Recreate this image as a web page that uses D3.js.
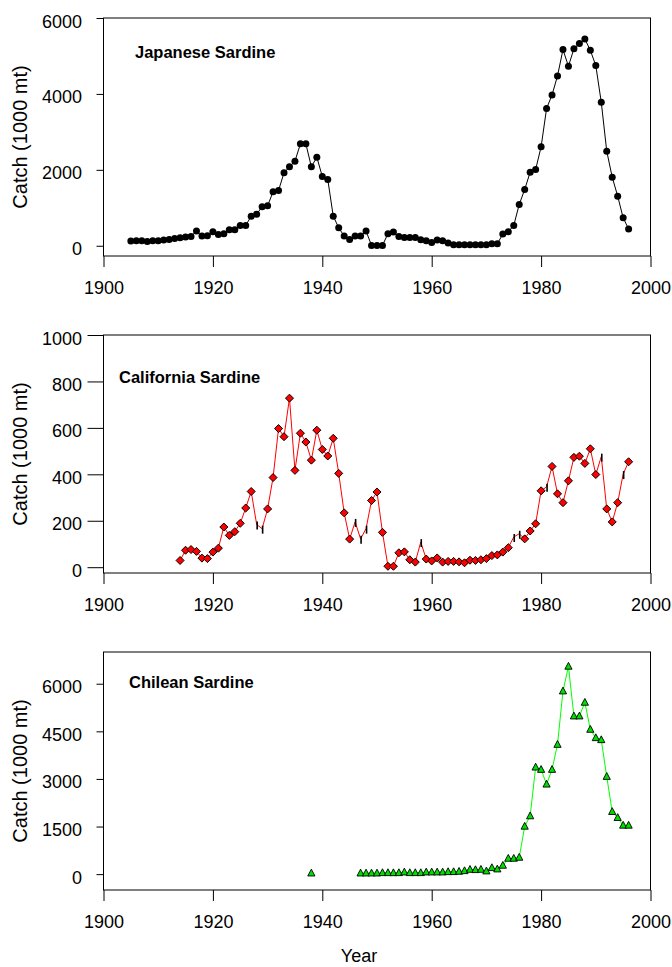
<html>
<script src='https://d3js.org/d3.v7.min.js'></script>
<style>
  body { margin: 0; background: #fff; }
  text { font-family: "Liberation Sans", Arial, sans-serif; fill: #000; }
</style>
<body onload='init()'>
<svg width=672 height=967></svg>
<script>
// Japanese sardine, 1905-1996 (1000 mt)
const jpYears = d3.range(1905, 1997);
const jpCatch = [123, 130, 130, 114, 130, 130, 150, 167, 193, 210,
  228, 245, 386, 254, 263, 368, 298, 316, 421, 421,
  535, 535, 780, 833, 1026, 1053, 1421, 1456, 1921, 2079,
  2228, 2684, 2684, 2079, 2333, 1825, 1746, 780, 474, 254,
  167, 254, 254, 386, 9, 9, 9, 316, 360, 245,
  219, 219, 219, 158, 132, 88, 149, 132, 70, 26,
  26, 26, 26, 26, 26, 26, 53, 53, 307, 368,
  535, 1088, 1482, 1939, 2009, 2605, 3614, 3974, 4474, 5167,
  4728, 5193, 5325, 5447, 5149, 4746, 3781, 2491, 1807, 1307,
  737, 439];

// California sardine, 1914-1996 (1000 mt)
const caYears = d3.range(1914, 1997);
const caCatch = [29, 73, 76, 68, 39, 37, 65, 82, 173, 137,
  153, 189, 255, 326, 184, 166, 251, 386, 597, 562,
  728, 417, 577, 539, 461, 590, 507, 479, 555, 404,
  234, 121, 195, 122, 166, 287, 324, 150, 4, 4,
  62, 66, 32, 22, 108, 35, 27, 40, 22, 25,
  25, 23, 19, 30, 29, 32, 37, 50, 53, 65,
  84, 130, 144, 122, 156, 187, 329, 346, 434, 316,
  278, 372, 473, 478, 447, 510, 399, 476, 251, 195,
  278, 401, 454];
// years plotted with a bar mark instead of a diamond
const caBarYears = [1928, 1929, 1946, 1947, 1948, 1958, 1975, 1976, 1981, 1991, 1995];

// Chilean sardine, 1938 and 1947-1996 (1000 mt)
const clYears = [1938].concat(d3.range(1947, 1997));
const clCatch = [30,
  30, 30, 30, 30, 42, 42, 40, 42, 63,
  42, 42, 42, 63, 63, 63, 63, 74, 74, 84,
  105, 147, 137, 147, 95, 200, 158, 274, 495, 495,
  526, 1505, 1832, 3368, 3295, 2832, 3295, 4084, 5768, 6547,
  4979, 4979, 5410, 4558, 4295, 4232, 3074, 1968, 1779, 1537,
  1537];

const xTicks = [1900, 1920, 1940, 1960, 1980, 2000];
const jpTicks = [0, 2000, 4000, 6000];
const caTicks = [0, 200, 400, 600, 800, 1000];
const clTicks = [0, 1500, 3000, 4500, 6000];

function init() {
  const svg = d3.select('svg');
  const left = 103.5, right = 650.5, h = 238;
  const x = d3.scaleLinear().domain([1900, 2000]).range([left, right]);

  const panels = [
    {top: 18, domain: [-270, 6000], ticks: jpTicks, tickLen: 7, title: 'Japanese Sardine', tx: 135, ty: 58,
     years: jpYears, vals: jpCatch, line: '#000', marker: 'circle'},
    {top: 335, domain: [-25, 1000], ticks: caTicks, tickLen: 16, title: 'California Sardine', tx: 119, ty: 383,
     years: caYears, vals: caCatch, line: '#ff0000', marker: 'diamond'},
    {top: 652, domain: [-500, 7000], ticks: clTicks, tickLen: 7, title: 'Chilean Sardine', tx: 129, ty: 688,
     years: clYears, vals: clCatch, line: '#00ff00', marker: 'triangle'}
  ];

  panels.forEach(p => {
    const y = d3.scaleLinear().domain(p.domain).range([p.top + h, p.top]);
    const g = svg.append('g');

    // frame
    g.append('rect').attr('x', left).attr('y', p.top).attr('width', right - left).attr('height', h)
      .attr('fill', 'none').attr('stroke', '#000').attr('stroke-width', 1);

    // axes
    const ax = g.append('g').attr('transform', `translate(0,${p.top + h})`)
      .call(d3.axisBottom(x).tickValues(xTicks).tickFormat(d3.format('d')).tickSize(11).tickPadding(14.5));
    const ay = g.append('g').attr('transform', `translate(${left},0)`)
      .call(d3.axisLeft(y).tickValues(p.ticks).tickFormat(d3.format('d')).tickSize(p.tickLen).tickPadding(21.5 - p.tickLen));
    [ax, ay].forEach(a => {
      a.select('.domain').remove();
      a.selectAll('line').attr('stroke', '#000');
      a.selectAll('text').attr('font-size', 18).attr('font-family', '"Liberation Sans", Arial, sans-serif');
    });
    ay.selectAll('text').attr('dy', '0.5em');

    // y title
    g.append('text').attr('transform', `translate(27,${p.top + h / 2}) rotate(-90)`)
      .attr('text-anchor', 'middle').attr('font-size', 20).text('Catch (1000 mt)');

    // panel title
    g.append('text').attr('x', p.tx).attr('y', p.ty).attr('font-size', 16.5).attr('font-weight', 'bold')
      .text(p.title);

    const pts = p.years.map((yr, i) => ({yr: yr, v: p.vals[i]}));
    // break the line where years are missing
    const segs = [];
    pts.forEach((d, i) => {
      if (i === 0 || d.yr - pts[i - 1].yr > 1) segs.push([]);
      segs[segs.length - 1].push(d);
    });
    const line = d3.line().x(d => x(d.yr)).y(d => y(d.v));
    g.selectAll('path.ln').data(segs).enter().append('path').attr('class', 'ln')
      .attr('d', line).attr('fill', 'none').attr('stroke', p.line).attr('stroke-width', 1);

    if (p.marker === 'circle') {
      g.selectAll('circle.pt').data(pts).enter().append('circle')
        .attr('cx', d => x(d.yr)).attr('cy', d => y(d.v)).attr('r', 3.5).attr('fill', '#000');
    } else if (p.marker === 'diamond') {
      const dia = 'M0,-4L4,0L0,4L-4,0Z';
      g.selectAll('path.pt').data(pts.filter(d => !caBarYears.includes(d.yr))).enter().append('path')
        .attr('d', dia).attr('transform', d => `translate(${x(d.yr)},${y(d.v)})`)
        .attr('fill', '#ff0000').attr('stroke', '#000').attr('stroke-width', 1);
      g.selectAll('line.bar').data(pts.filter(d => caBarYears.includes(d.yr))).enter().append('line')
        .attr('x1', d => x(d.yr) + 0.5).attr('x2', d => x(d.yr) + 0.5)
        .attr('y1', d => y(d.v) - 3).attr('y2', d => y(d.v) + 5)
        .attr('stroke', '#000').attr('stroke-width', 1.6);
    } else {
      const tri = 'M0,-4L3.6,2.8L-3.6,2.8Z';
      g.selectAll('path.pt').data(pts).enter().append('path')
        .attr('d', tri).attr('transform', d => `translate(${x(d.yr)},${y(d.v)})`)
        .attr('fill', '#00dd00').attr('stroke', '#000').attr('stroke-width', 0.9);
    }
  });

  svg.append('text').attr('x', 359).attr('y', 962).attr('text-anchor', 'middle')
    .attr('font-size', 18).text('Year');
}
</script>
</body>
</html>
